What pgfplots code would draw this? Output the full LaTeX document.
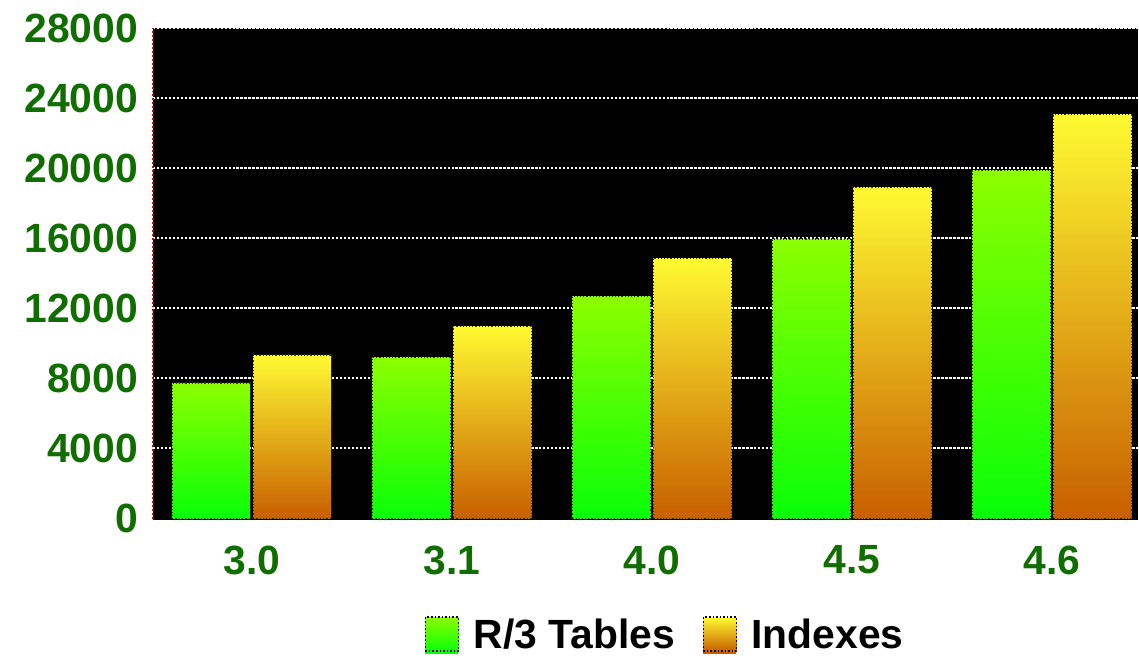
\documentclass[border=0pt]{standalone}
\usepackage{pgfplots}
\pgfplotsset{compat=1.18}
\usepackage{fontspec}
\setmainfont{Liberation Sans}
\definecolor{tickgreen}{RGB}{16,110,0}
\definecolor{gtop}{RGB}{140,255,0}
\definecolor{gbot}{RGB}{8,255,8}
\definecolor{otop}{RGB}{255,250,50}
\definecolor{obot}{RGB}{200,95,0}
\definecolor{edgec}{RGB}{40,60,0}
\begin{document}
\begin{tikzpicture}
\pgfplotsset{
  gbar/.style={ybar, bar width=0.39, bar shift=-0.2025, top color=gtop, bottom color=gbot, draw=edgec, densely dotted, line width=0.6pt, forget plot},
  obar/.style={ybar, bar width=0.39, bar shift=0.2025, top color=otop, bottom color=obot, draw=edgec, densely dotted, line width=0.6pt, forget plot},
}
\begin{axis}[
  scale only axis,
  width=493bp, height=245.5bp,
  xmin=-0.494, xmax=4.43,
  ymin=0, ymax=28000,
  clip=false,
  axis background/.style={fill=black},
  axis lines*=left,
  separate axis lines,
  x axis line style={black, line width=1pt, -},
  y axis line style={red!80!black, densely dotted, line width=1pt, -},
  xtick={0,1,2,3,4},
  xticklabels={3.0,3.1,4.0,4.5,4.6},
  ytick={0,4000,8000,12000,16000,20000,24000,28000},
  scaled y ticks=false,
  yticklabel={\pgfmathprintnumber[fixed,precision=0,1000 sep={},assume math mode=true]{\tick}},
  tick style={draw=none},
  ymajorgrids,
  major grid style={white, dash pattern=on 1.2pt off 0.8pt, line width=1pt},
  tick label style={font=\bfseries\fontsize{20.5}{24}\selectfont, text=tickgreen},
  xticklabel style={yshift=-10bp},
  yticklabel style={xshift=-4bp},
  legend style={at={(rel axis cs:0.521,-0.238)}, anchor=center, draw=none, fill=none,
    font=\bfseries\fontsize{20.5}{24}\selectfont, legend columns=2,
    /tikz/every even column/.append style={column sep=12bp}},
]
\path (rel axis cs:-0.1552,-0.2892) rectangle (rel axis cs:1,1.057);
% R/3 Tables
\addplot[gbar] coordinates {(0,7730)};
\addplot[gbar] coordinates {(1,9200)};
\addplot[gbar] coordinates {(2,12690)};
\addplot[gbar] coordinates {(3,15950)};
\addplot[gbar] coordinates {(4,19850)};
% Indexes
\addplot[obar] coordinates {(0,9330)};
\addplot[obar] coordinates {(1,10970)};
\addplot[obar] coordinates {(2,14860)};
\addplot[obar] coordinates {(3,18910)};
\addplot[obar] coordinates {(4,23050)};
\addlegendimage{legend image code/.code={
  \fill[gbot, draw=none] (0bp,-9.5bp) rectangle (16.5bp,-8bp);
  \shade[top color=gtop, bottom color=gbot, draw=none] (0bp,-8bp) rectangle (16.5bp,9bp);
  \draw[black, densely dotted, line width=0.8pt] (0bp,-8bp) rectangle (16.5bp,9bp);
  \path[draw=none, fill=none] (22bp,0bp) circle (0.1bp);}}
\addlegendentry{R/3 Tables}
\addlegendimage{legend image code/.code={
  \fill[obot, draw=none] (0bp,-9.5bp) rectangle (16.5bp,-8bp);
  \shade[top color=otop, bottom color=obot, draw=none] (0bp,-8bp) rectangle (16.5bp,9bp);
  \draw[black, densely dotted, line width=0.8pt] (0bp,-8bp) rectangle (16.5bp,9bp);
  \path[draw=none, fill=none] (22bp,0bp) circle (0.1bp);}}
\addlegendentry{Indexes}
\end{axis}
\end{tikzpicture}
\end{document}
